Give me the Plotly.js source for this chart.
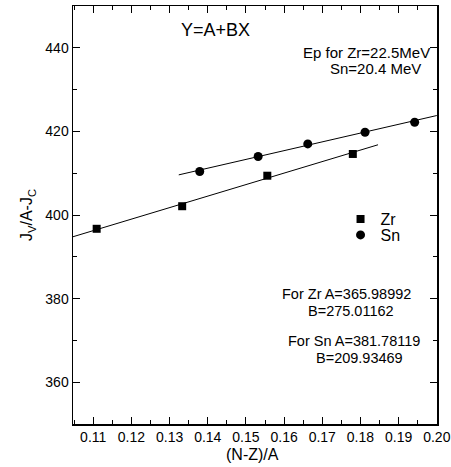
<!DOCTYPE html>
<html>
<head>
<meta charset="utf-8">
<script src="https://cdn.plot.ly/plotly-3.0.1.min.js"></script>
<style>html,body{margin:0;padding:0;background:#fff;}#chart{width:451px;height:467px;}</style>
</head>
<body>
<div id="chart"></div>
<script>
// Data
const zrX = [0.1109, 0.1333, 0.1556, 0.1780];
const zrY = [396.7, 402.1, 409.4, 414.6];
const snX = [0.1379, 0.1532, 0.1662, 0.1812, 0.1942];
const snY = [410.4, 414.0, 417.0, 419.8, 422.2];
// Fit line endpoints
const zrFitX = [0.1047, 0.1846];
const zrFitY = [394.8, 416.8];
const snFitX = [0.1324, 0.2000];
const snFitY = [409.6, 423.8];
const seriesNames = ["Zr", "Sn"];

const FONT = '"Liberation Sans", Arial, Helvetica, sans-serif';

const traces = [
  {x: zrFitX, y: zrFitY, mode: 'lines', line: {color: '#000', width: 1}, showlegend: false, hoverinfo: 'skip'},
  {x: snFitX, y: snFitY, mode: 'lines', line: {color: '#000', width: 1}, showlegend: false, hoverinfo: 'skip'},
  {x: zrX, y: zrY, mode: 'markers', name: seriesNames[0], legend: 'legend',
   marker: {symbol: 'square', size: 8, color: '#000'}},
  {x: snX, y: snY, mode: 'markers', name: seriesNames[1], legend: 'legend2',
   marker: {symbol: 'circle', size: 9, color: '#000'}}
];

const axisCommon = {
  showline: true, linecolor: '#000', linewidth: 1.5, mirror: 'allticks',
  ticks: 'inside', ticklen: 7, tickwidth: 1, tickcolor: '#000',
  showgrid: false, zeroline: false,
  tickfont: {family: FONT, size: 14, color: '#000'}
};

function note(text, px, py, size) {
  return {text: text, xref: 'paper', yref: 'paper', x: (px - 73) / 364, y: (424 - py) / 418,
    xanchor: 'center', yanchor: 'middle', showarrow: false,
    font: {family: FONT, size: size, color: '#000'}};
}

const layout = {
  width: 451, height: 467,
  margin: {l: 73, r: 14, t: 6, b: 43},
  paper_bgcolor: '#fff', plot_bgcolor: '#fff',
  font: {family: FONT, color: '#000'},
  xaxis: Object.assign({}, axisCommon, {
    range: [0.1047, 0.20005], tick0: 0.1, dtick: 0.01, tickformat: '.2f',
    minor: {dtick: 0.005, tick0: 0.1, ticks: 'inside', ticklen: 4, tickcolor: '#000', tickwidth: 1}
  }),
  yaxis: Object.assign({}, axisCommon, {
    range: [350, 450], tick0: 0, dtick: 20,
    minor: {dtick: 10, tick0: 0, ticks: 'inside', ticklen: 4, tickcolor: '#000', tickwidth: 1},
    title: {text: 'J<sub>V</sub>/A-J<sub>C</sub>', font: {family: FONT, size: 16, color: '#000'}, standoff: 8}
  }),
  legend: {x: 0.735, y: (424 - 219) / 418, xanchor: 'left', yanchor: 'middle',
    bgcolor: 'rgba(0,0,0,0)', borderwidth: 0, font: {family: FONT, size: 16, color: '#000'}},
  legend2: {x: 0.735, y: (424 - 235) / 418, xanchor: 'left', yanchor: 'middle',
    bgcolor: 'rgba(0,0,0,0)', borderwidth: 0, font: {family: FONT, size: 16, color: '#000'}},
  annotations: [
    note('(N-Z)/A', 252, 454, 16),
    note('Y=A+BX', 215, 30, 18),
    note('Ep for Zr=22.5MeV', 366, 53, 15),
    note('Sn=20.4 MeV', 375, 69, 15),
    note('For Zr A=365.98992', 346, 293.5, 14.5),
    note('B=275.01162', 351, 310.5, 14.5),
    note('For Sn A=381.78119', 354, 340.5, 14.5),
    note('B=209.93469', 359, 357.5, 14.5)
  ]
};

Plotly.newPlot('chart', traces, layout, {displayModeBar: false, staticPlot: true});
</script>
</body>
</html>
